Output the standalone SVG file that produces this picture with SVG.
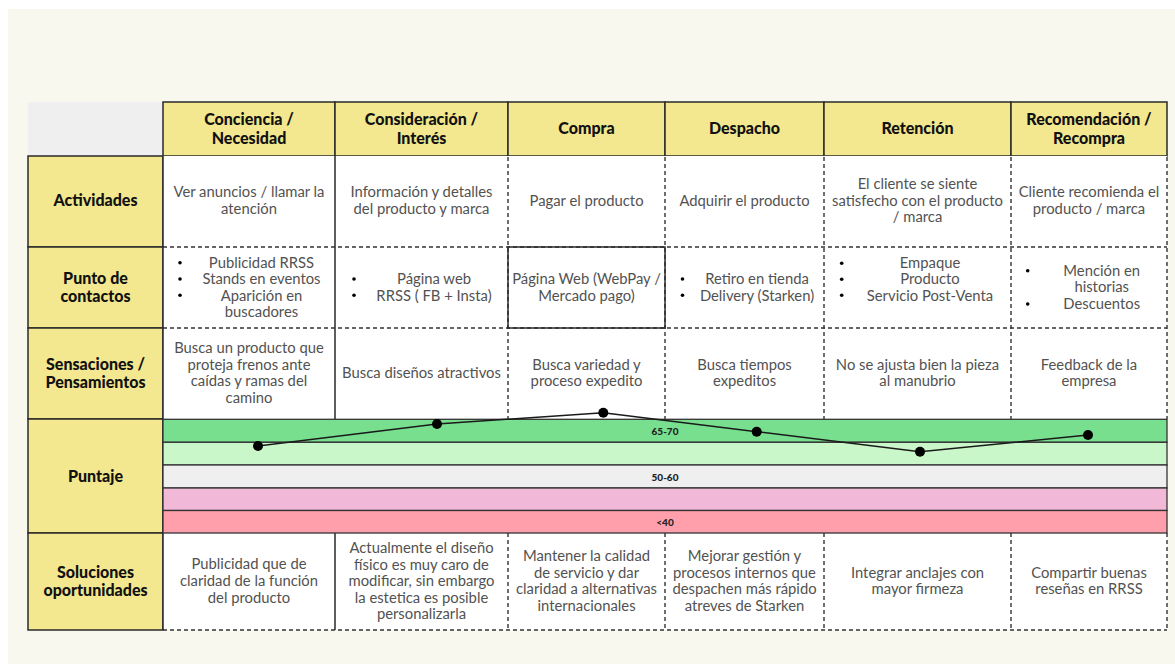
<svg xmlns="http://www.w3.org/2000/svg" width="1175" height="664" viewBox="0 0 1175 664">
  <style>
    .head { fill: #f3e88f; stroke: #2a2a2a; stroke-width: 1.5; }
    .lab { fill: #f3e88f; stroke: #2a2a2a; stroke-width: 1.5; }
    .cell { fill: #ffffff; }
    .ht { font-family: "Lato", "Liberation Sans", sans-serif; font-weight: 900; font-size: 16px; fill: #111; text-anchor: middle; }
    .bt { font-family: "Lato", "Liberation Sans", sans-serif; font-weight: 400; font-size: 14.8px; fill: #525252; text-anchor: middle; }
    .sc { font-family: "Lato", "Liberation Sans", sans-serif; font-weight: 900; font-size: 10px; fill: #222; text-anchor: middle; }
    .solid { stroke: #2a2a2a; stroke-width: 1.5; fill: none; }
    .dash { stroke: #333; stroke-width: 1.4; stroke-dasharray: 4 3; fill: none; }
    .band { stroke: #333; stroke-width: 1.3; }
    .dot { fill: #000; }
  </style>

  <!-- page backdrop -->
  <rect x="0" y="0" width="1175" height="664" fill="#ffffff"/>
  <rect x="8" y="9" width="1167" height="655" fill="#f8f8ee"/>

  <!-- corner cell -->
  <rect x="28" y="102" width="135" height="54" fill="#efefef"/>

  <!-- stage headers -->
  <g id="h-conciencia">
    <rect class="head" x="163" y="102" width="172" height="54"/>
    <text class="ht" x="249" y="125">Conciencia /</text>
    <text class="ht" x="249" y="144">Necesidad</text>
  </g>
  <g id="h-consideracion">
    <rect class="head" x="335" y="102" width="173" height="54"/>
    <text class="ht" x="421.5" y="125">Consideración /</text>
    <text class="ht" x="421.5" y="144">Interés</text>
  </g>
  <g id="h-compra">
    <rect class="head" x="508" y="102" width="157" height="54"/>
    <text class="ht" x="586.5" y="134">Compra</text>
  </g>
  <g id="h-despacho">
    <rect class="head" x="665" y="102" width="159" height="54"/>
    <text class="ht" x="744.5" y="134">Despacho</text>
  </g>
  <g id="h-retencion">
    <rect class="head" x="824" y="102" width="187" height="54"/>
    <text class="ht" x="917.5" y="134">Retención</text>
  </g>
  <g id="h-recomendacion">
    <rect class="head" x="1011" y="102" width="156" height="54"/>
    <text class="ht" x="1089" y="125">Recomendación /</text>
    <text class="ht" x="1089" y="144">Recompra</text>
  </g>

  <!-- row labels -->
  <g id="r-actividades">
    <rect class="lab" x="28" y="156" width="135" height="91"/>
    <text class="ht" x="95.5" y="206">Actividades</text>
  </g>
  <g id="r-contactos">
    <rect class="lab" x="28" y="247" width="135" height="81"/>
    <text class="ht" x="95.5" y="284">Punto de</text>
    <text class="ht" x="95.5" y="302">contactos</text>
  </g>
  <g id="r-sensaciones">
    <rect class="lab" x="28" y="328" width="135" height="91"/>
    <text class="ht" x="95.5" y="370">Sensaciones /</text>
    <text class="ht" x="95.5" y="388">Pensamientos</text>
  </g>
  <g id="r-puntaje">
    <rect class="lab" x="28" y="419" width="135" height="114"/>
    <text class="ht" x="95.5" y="482">Puntaje</text>
  </g>
  <g id="r-soluciones">
    <rect class="lab" x="28" y="533" width="135" height="97"/>
    <text class="ht" x="95.5" y="578">Soluciones</text>
    <text class="ht" x="95.5" y="596">oportunidades</text>
  </g>

  <!-- content areas -->
  <rect class="cell" x="163" y="156" width="1004" height="263"/>
  <rect class="cell" x="163" y="533" width="1004" height="97"/>

  <!-- grid lines -->
  <g id="grid">
    <path class="dash" d="M163 247H1167M163 328H1167M163 630H1167"/>
    <path class="dash" d="M508 157V419M665 157V419M824 157V419M1011 157V419M1167 157V419"/>
    <path class="dash" d="M508 533V630M665 533V630M824 533V630M1011 533V630M1167 533V630"/>
    <path class="solid" d="M335 156V419M335 533V630M163 156V630"/>
    <rect class="solid" x="508" y="247" width="157" height="81"/>
  </g>

  <!-- score bands -->
  <g id="bands">
    <rect class="band" x="163" y="419.3" width="1004" height="23" fill="#78df8f"/>
    <rect class="band" x="163" y="442.3" width="1004" height="22.7" fill="#c9f7c9"/>
    <rect class="band" x="163" y="465" width="1004" height="23" fill="#efefef"/>
    <rect class="band" x="163" y="488" width="1004" height="22.5" fill="#f2b8d8"/>
    <rect class="band" x="163" y="510.5" width="1004" height="22.5" fill="#fe9fab"/>
    <text class="sc" x="665" y="435">65-70</text>
    <text class="sc" x="665" y="480.5">50-60</text>
    <text class="sc" x="665" y="526">&lt;40</text>
  </g>

  <!-- Actividades -->
  <g id="c-act-1"><text class="bt" x="249" y="197">Ver anuncios / llamar la</text><text class="bt" x="249" y="214">atención</text></g>
  <g id="c-act-2"><text class="bt" x="421.5" y="197">Información y detalles</text><text class="bt" x="421.5" y="214">del producto y marca</text></g>
  <g id="c-act-3"><text class="bt" x="586.5" y="206">Pagar el producto</text></g>
  <g id="c-act-4"><text class="bt" x="744.5" y="206">Adquirir el producto</text></g>
  <g id="c-act-5"><text class="bt" x="917.5" y="189">El cliente se siente</text><text class="bt" x="917.5" y="205.5">satisfecho con el producto</text><text class="bt" x="917.5" y="222">/ marca</text></g>
  <g id="c-act-6"><text class="bt" x="1089" y="197">Cliente recomienda el</text><text class="bt" x="1089" y="214">producto / marca</text></g>

  <!-- Punto de contactos -->
  <g id="c-pc-1">
    <circle class="dot" cx="180" cy="262.7" r="1.8"/><circle class="dot" cx="180" cy="279" r="1.8"/><circle class="dot" cx="180" cy="295.3" r="1.8"/>
    <text class="bt" x="261.5" y="267.5">Publicidad RRSS</text>
    <text class="bt" x="261.5" y="284">Stands en eventos</text>
    <text class="bt" x="261.5" y="300.5">Aparición en</text>
    <text class="bt" x="261.5" y="317">buscadores</text>
  </g>
  <g id="c-pc-2">
    <circle class="dot" cx="354" cy="279" r="1.8"/><circle class="dot" cx="354" cy="295.3" r="1.8"/>
    <text class="bt" x="434" y="284">Página web</text>
    <text class="bt" x="434" y="300.5">RRSS ( FB + Insta)</text>
  </g>
  <g id="c-pc-3">
    <text class="bt" x="586.5" y="284">Página Web (WebPay /</text>
    <text class="bt" x="586.5" y="300.5">Mercado pago)</text>
  </g>
  <g id="c-pc-4">
    <circle class="dot" cx="682.5" cy="279" r="1.8"/><circle class="dot" cx="682.5" cy="295.3" r="1.8"/>
    <text class="bt" x="757" y="284">Retiro en tienda</text>
    <text class="bt" x="757" y="300.5">Delivery (Starken)</text>
  </g>
  <g id="c-pc-5">
    <circle class="dot" cx="841.7" cy="263.3" r="1.8"/><circle class="dot" cx="841.7" cy="279.3" r="1.8"/><circle class="dot" cx="841.7" cy="295.3" r="1.8"/>
    <text class="bt" x="930" y="267.5">Empaque</text>
    <text class="bt" x="930" y="284">Producto</text>
    <text class="bt" x="930" y="300.5">Servicio Post-Venta</text>
  </g>
  <g id="c-pc-6">
    <circle class="dot" cx="1027.7" cy="270.7" r="1.8"/><circle class="dot" cx="1027.7" cy="304" r="1.8"/>
    <text class="bt" x="1101.7" y="275.5">Mención en</text>
    <text class="bt" x="1101.7" y="292">historias</text>
    <text class="bt" x="1101.7" y="308.5">Descuentos</text>
  </g>

  <!-- Sensaciones / Pensamientos -->
  <g id="c-sp-1">
    <text class="bt" x="249" y="353">Busca un producto que</text>
    <text class="bt" x="249" y="369.5">proteja frenos ante</text>
    <text class="bt" x="249" y="386">caídas y ramas del</text>
    <text class="bt" x="249" y="402.5">camino</text>
  </g>
  <g id="c-sp-2"><text class="bt" x="421.5" y="378">Busca diseños atractivos</text></g>
  <g id="c-sp-3"><text class="bt" x="586.5" y="369.5">Busca variedad y</text><text class="bt" x="586.5" y="386">proceso expedito</text></g>
  <g id="c-sp-4"><text class="bt" x="744.5" y="369.5">Busca tiempos</text><text class="bt" x="744.5" y="386">expeditos</text></g>
  <g id="c-sp-5"><text class="bt" x="917.5" y="369.5">No se ajusta bien la pieza</text><text class="bt" x="917.5" y="386">al manubrio</text></g>
  <g id="c-sp-6"><text class="bt" x="1089" y="369.5">Feedback de la</text><text class="bt" x="1089" y="386">empresa</text></g>

  <!-- Soluciones oportunidades -->
  <g id="c-so-1">
    <text class="bt" x="249" y="569">Publicidad que de</text>
    <text class="bt" x="249" y="586">claridad de la función</text>
    <text class="bt" x="249" y="603">del producto</text>
  </g>
  <g id="c-so-2">
    <text class="bt" x="421.5" y="553">Actualmente el diseño</text>
    <text class="bt" x="421.5" y="569.5">físico es muy caro de</text>
    <text class="bt" x="421.5" y="586">modificar, sin embargo</text>
    <text class="bt" x="421.5" y="602.5">la estetica es posible</text>
    <text class="bt" x="421.5" y="619">personalizarla</text>
  </g>
  <g id="c-so-3">
    <text class="bt" x="586.5" y="561">Mantener la calidad</text>
    <text class="bt" x="586.5" y="577.5">de servicio y dar</text>
    <text class="bt" x="586.5" y="594">claridad a alternativas</text>
    <text class="bt" x="586.5" y="610.5">internacionales</text>
  </g>
  <g id="c-so-4">
    <text class="bt" x="744.5" y="561">Mejorar gestión y</text>
    <text class="bt" x="744.5" y="577.5">procesos internos que</text>
    <text class="bt" x="744.5" y="594">despachen más rápido</text>
    <text class="bt" x="744.5" y="610.5">atreves de Starken</text>
  </g>
  <g id="c-so-5"><text class="bt" x="917.5" y="577.5">Integrar anclajes con</text><text class="bt" x="917.5" y="594">mayor firmeza</text></g>
  <g id="c-so-6"><text class="bt" x="1089" y="577.5">Compartir buenas</text><text class="bt" x="1089" y="594">reseñas en RRSS</text></g>

  <!-- score curve -->
  <g id="connectors">
    <polyline points="258,446 437,424 603.3,412.7 756.7,431.7 920,451.7 1088,435" fill="none" stroke="#1a1a1a" stroke-width="1.5"/>
    <circle class="dot" cx="258" cy="446" r="5"/>
    <circle class="dot" cx="437" cy="424" r="5"/>
    <circle class="dot" cx="603.3" cy="412.7" r="5"/>
    <circle class="dot" cx="756.7" cy="431.7" r="5"/>
    <circle class="dot" cx="920" cy="451.7" r="5"/>
    <circle class="dot" cx="1088" cy="435" r="5"/>
  </g>
</svg>
